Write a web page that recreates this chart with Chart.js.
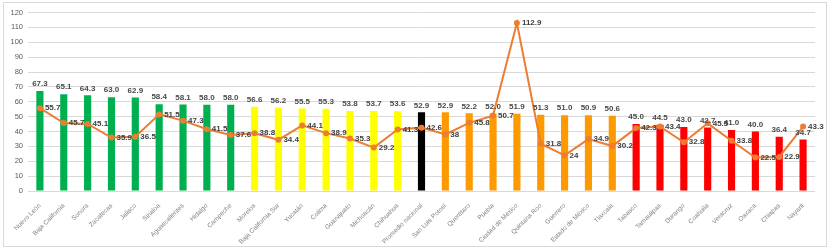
<!DOCTYPE html>
<html>
<head>
<meta charset="utf-8">
<script src="https://cdn.jsdelivr.net/npm/chart.js@4.4.1/dist/chart.umd.min.js"></script>
<style>
  body { margin:0; background:#fff; }
  #box { position:absolute; left:3px; top:2px; width:822px; height:243px; border:1px solid #d9d9d9; background:#fff; }
</style>
</head>
<body>
<div id="box"><canvas id="chart"></canvas></div>
<script>
const estados = ['Nuevo León','Baja California','Sonora','Zacatecas','Jalisco','Sinaloa','Aguascalientes','Hidalgo','Campeche',
  'Morelos','Baja California Sur','Yucatán','Colima','Guanajuato','Michoacán','Chihuahua','Promedio nacional',
  'San Luis Potosí','Querétaro','Puebla','Ciudad de México','Quintana Roo','Guerrero','Estado de México','Tlaxcala',
  'Tabasco','Tamaulipas','Durango','Coahuila','Veracruz','Oaxaca','Chiapas','Nayarit'];
const barras = [67.3,65.1,64.3,63.0,62.9,58.4,58.1,58.0,58.0,
  56.6,56.2,55.5,55.3,53.8,53.7,53.6,52.9,
  52.9,52.2,52.0,51.9,51.3,51.0,50.9,50.6,
  45.0,44.5,43.0,42.7,41.0,40.0,36.4,34.7];
const linea = [55.7,45.7,45.1,35.9,36.5,51.5,47.3,41.5,37.6,
  38.8,34.4,44.1,38.9,35.3,29.2,41.3,42.6,
  38,45.8,50.7,112.9,31.8,24,34.9,30.2,
  42.3,43.4,32.8,45.5,33.8,22.5,22.9,43.3];
const grupos = [9, 7, 1, 8, 8]; // verde, amarillo, promedio, naranja, rojo
const coloresGrupo = ['#00b050','#ffff00','#000000','#ff9900','#ff0000'];

const coloresBarras = [];
grupos.forEach((n, g) => { for (let i = 0; i < n; i++) coloresBarras.push(coloresGrupo[g]); });

const etiquetas = {
  id: 'etiquetas',
  afterDatasetsDraw(chart) {
    const ctx = chart.ctx;
    ctx.save();
    // barras
    const mb = chart.getDatasetMeta(0);
    ctx.font = 'bold 8px "Liberation Sans Narrow", "Liberation Sans", Arial';
    ctx.fillStyle = '#4a4a4a';
    ctx.textAlign = 'center';
    ctx.textBaseline = 'bottom';
    mb.data.forEach((el, i) => {
      ctx.fillText(barras[i].toFixed(1), el.x, el.y - 3);
    });
    // linea
    const ml = chart.getDatasetMeta(1);
    ctx.fillStyle = '#404040';
    ctx.textAlign = 'left';
    ctx.textBaseline = 'middle';
    ml.data.forEach((el, i) => {
      ctx.fillText(String(linea[i]), el.x + 5, el.y);
    });
    ctx.restore();
  }
};

new Chart(document.getElementById('chart'), {
  data: {
    labels: estados,
    datasets: [
      { type:'bar', data: barras, backgroundColor: coloresBarras, barPercentage: 0.3, categoryPercentage: 1, order: 2 },
      { type:'line', data: linea, borderColor:'#ed7d31', backgroundColor:'#ed7d31', borderWidth: 2,
        pointRadius: 2, pointHoverRadius: 2, tension: 0, order: 1 }
    ]
  },
  options: {
    responsive: true,
    maintainAspectRatio: false,
    animation: false,
    layout: { padding: { left: 0, right: 11, top: 9, bottom: 0 } },
    plugins: { legend: { display:false }, tooltip: { enabled:false } },
    scales: {
      x: {
        grid: { display:false },
        border: { display:false },
        ticks: { color:'#7f7f7f', font:{ family:'"Liberation Sans Narrow", "Liberation Sans", Arial', size:6.5 },
          minRotation:45, maxRotation:45, autoSkip:false, padding:3 },
        afterFit(s) { s.height = 55; }
      },
      y: {
        min: 0, max: 120,
        grid: { color:'#d9d9d9', drawTicks:false },
        border: { display:false },
        ticks: { stepSize:5, color:'#595959', font:{ family:'"Liberation Sans Narrow", "Liberation Sans", Arial', size:7.5 }, padding:5 },
        afterFit(s) { s.width = 24; }
      }
    }
  },
  plugins: [etiquetas]
});
</script>
</body>
</html>
